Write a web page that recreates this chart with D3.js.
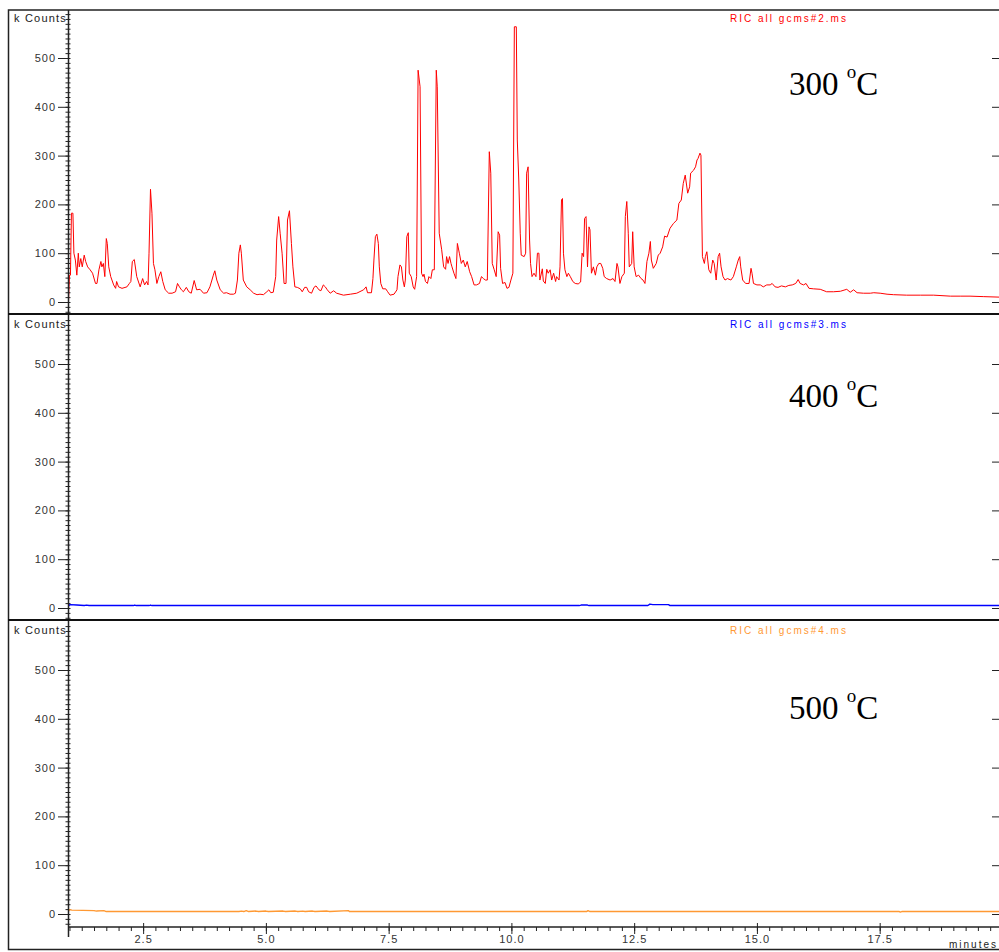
<!DOCTYPE html>
<html>
<head>
<meta charset="utf-8">
<script src="https://cdn.jsdelivr.net/npm/d3@7"></script>
<style>
  body { margin: 0; background: #fff; }
  svg { display: block; }
</style>
</head>
<body>
<div id="chart"></div>
<script>
"use strict";

// retention time (minutes), kCounts
var ric2 = [
  [0.98,1],[1.00,55],[1.02,55],[1.04,182],[1.07,182],[1.09,100],[1.12,86],[1.15,55],[1.18,100],[1.20,72],
  [1.23,89],[1.26,72],[1.30,96],[1.33,83],[1.37,72],[1.42,66],[1.47,59],[1.53,38],[1.56,38],[1.60,66],
  [1.64,83],[1.66,72],[1.69,79],[1.72,52],[1.75,130],[1.77,120],[1.80,72],[1.84,52],[1.90,35],[1.94,28],
  [1.96,42],[2.00,31],[2.07,28],[2.17,31],[2.22,38],[2.25,42],[2.28,83],[2.32,87],[2.37,52],[2.44,31],
  [2.49,48],[2.53,35],[2.57,42],[2.60,35],[2.62,100],[2.65,231],[2.68,182],[2.71,79],[2.74,66],[2.78,38],
  [2.82,52],[2.86,62],[2.90,42],[2.95,25],[3.02,18],[3.09,18],[3.16,21],[3.20,38],[3.24,31],[3.28,25],
  [3.32,21],[3.38,30],[3.43,21],[3.48,18],[3.54,44],[3.59,25],[3.66,26],[3.73,18],[3.80,19],[3.86,31],
  [3.93,55],[3.96,64],[4.00,45],[4.07,25],[4.14,18],[4.20,19],[4.27,16],[4.34,16],[4.38,18],[4.42,45],
  [4.45,100],[4.48,117],[4.50,100],[4.54,45],[4.61,31],[4.68,25],[4.75,18],[4.82,15],[4.88,16],[4.95,15],
  [5.02,21],[5.06,25],[5.10,19],[5.15,20],[5.20,52],[5.22,127],[5.26,175],[5.29,141],[5.33,100],[5.37,38],
  [5.41,38],[5.44,168],[5.48,187],[5.52,120],[5.55,72],[5.59,31],[5.64,30],[5.70,27],[5.74,21],[5.79,30],
  [5.83,30],[5.87,21],[5.93,18],[5.98,30],[6.02,33],[6.08,25],[6.12,23],[6.17,35],[6.21,31],[6.25,25],
  [6.31,18],[6.38,23],[6.44,18],[6.58,14],[6.72,16],[6.85,18],[6.99,25],[7.04,31],[7.07,19],[7.15,19],
  [7.18,48],[7.20,86],[7.23,134],[7.26,139],[7.29,120],[7.31,72],[7.34,38],[7.38,27],[7.44,27],[7.48,21],
  [7.53,14],[7.61,16],[7.67,25],[7.69,52],[7.73,76],[7.76,72],[7.79,45],[7.82,31],[7.84,45],[7.87,134],
  [7.90,142],[7.92,59],[7.96,52],[8.00,31],[8.03,26],[8.07,52],[8.10,475],[8.14,441],[8.17,59],[8.20,52],
  [8.22,57],[8.25,42],[8.29,38],[8.32,52],[8.36,48],[8.39,66],[8.43,66],[8.47,475],[8.49,441],[8.53,141],
  [8.58,107],[8.62,72],[8.66,67],[8.68,93],[8.71,79],[8.74,93],[8.77,79],[8.79,72],[8.83,59],[8.87,48],
  [8.90,120],[8.94,100],[8.98,79],[9.02,86],[9.06,72],[9.10,83],[9.15,62],[9.19,52],[9.24,35],[9.29,35],
  [9.35,38],[9.39,52],[9.43,48],[9.47,45],[9.51,45],[9.55,308],[9.58,264],[9.61,79],[9.65,66],[9.69,52],
  [9.73,144],[9.76,137],[9.78,69],[9.82,38],[9.87,40],[9.91,28],[9.95,30],[9.99,45],[10.03,59],[10.06,564],
  [10.10,564],[10.12,332],[10.15,250],[10.18,141],[10.20,96],[10.26,93],[10.29,100],[10.31,264],[10.34,277],[10.37,127],
  [10.39,79],[10.42,52],[10.46,59],[10.50,52],[10.53,100],[10.56,100],[10.58,45],[10.63,68],[10.65,43],[10.69,38],
  [10.72,67],[10.75,59],[10.79,66],[10.82,45],[10.86,59],[10.90,42],[10.92,52],[10.97,45],[10.99,72],[11.02,209],
  [11.04,212],[11.06,100],[11.09,66],[11.13,52],[11.16,59],[11.20,52],[11.25,42],[11.30,38],[11.36,37],[11.41,41],
  [11.44,100],[11.47,93],[11.49,171],[11.52,175],[11.55,72],[11.58,154],[11.60,148],[11.63,59],[11.67,72],[11.71,55],
  [11.74,72],[11.78,79],[11.82,79],[11.86,69],[11.89,52],[11.94,48],[12.01,45],[12.07,48],[12.11,42],[12.15,79],
  [12.17,72],[12.21,38],[12.25,52],[12.30,59],[12.32,175],[12.35,206],[12.38,141],[12.40,72],[12.45,79],[12.47,144],
  [12.50,72],[12.54,52],[12.59,55],[12.64,48],[12.68,45],[12.72,38],[12.76,83],[12.80,100],[12.83,124],[12.85,86],
  [12.89,69],[12.95,79],[12.99,96],[13.03,100],[13.08,113],[13.12,135],[13.17,133],[13.23,151],[13.30,161],[13.37,168],
  [13.41,202],[13.46,209],[13.50,243],[13.54,260],[13.59,223],[13.63,236],[13.65,264],[13.71,270],[13.75,277],[13.78,291],
  [13.80,294],[13.84,305],[13.86,301],[13.89,93],[13.93,79],[13.95,93],[13.98,103],[14.02,66],[14.06,59],[14.10,86],
  [14.13,79],[14.17,45],[14.21,93],[14.24,100],[14.27,72],[14.31,52],[14.35,45],[14.40,48],[14.47,45],[14.52,52],
  [14.58,72],[14.62,86],[14.65,93],[14.67,72],[14.71,45],[14.77,38],[14.84,38],[14.88,69],[14.90,59],[14.93,38],
  [15.00,35],[15.07,35],[15.13,31],[15.20,35],[15.27,35],[15.31,38],[15.37,31],[15.43,30],[15.50,33],[15.58,31],
  [15.65,34],[15.72,35],[15.79,38],[15.84,46],[15.88,38],[15.95,35],[16.00,38],[16.06,28],[16.15,27],[16.29,26],
  [16.42,21],[16.56,21],[16.70,22],[16.83,26],[16.90,20],[16.97,25],[17.04,19],[17.17,18],[17.31,18],[17.38,19],
  [17.51,18],[17.65,16],[17.78,15],[18.05,14],[18.33,14],[18.60,14],[18.94,12],[19.14,12],[19.34,12],[19.62,11],
  [19.93,10]
];

var ric3 = [
  [0.98,4],[1.01,7],[1.15,6],[1.30,5],[1.35,6],[1.40,5],[2.30,5],[2.33,6],[2.36,5],[2.62,5],[2.65,6],[2.68,5],
  [11.38,5],[11.42,6],[11.55,6],[11.58,5],[12.78,5],[12.82,8],[12.88,7],[13.20,7],[13.23,5],[19.93,5]
];

var ric4 = [
  [0.98,6],[1.00,9],[1.05,8],[1.50,7],[1.55,6],[1.70,7],[1.75,5],[4.45,5],[4.50,6],[4.55,5],[4.60,7],[4.65,5],
  [4.80,6],[4.85,5],[5.00,6],[5.05,5],[5.35,6],[5.40,5],[5.60,6],[5.65,5],[5.75,6],[5.80,5],[5.95,6],[6.00,5],
  [6.25,6],[6.30,5],[6.68,7],[6.70,5],[11.53,5],[11.56,7],[11.60,5],[17.90,5],[17.92,4],[17.95,5],[19.93,5]
];

var traceNames = ["RIC all gcms#2.ms", "RIC all gcms#3.ms", "RIC all gcms#4.ms"];
var temperatures = ["300", "400", "500"];
var traceColors = ["#ff0000", "#0000ff", "#ff9933"];
var yTicks = [0, 100, 200, 300, 400, 500];
var xTicks = [2.5, 5.0, 7.5, 10.0, 12.5, 15.0, 17.5];

var width = 999;
var height = 952;
var panelStep = 306;
var xLeft = 68, xRight = 999, xAxisY = 927;

var svg = d3.select("#chart").append("svg")
  .attr("width", width)
  .attr("height", height)
  .style("font-family", "'Liberation Sans', Arial, sans-serif");

var x = d3.scaleLinear().domain([0.97, 19.93]).range([xLeft, xRight]);

var line = function(y){
  return d3.line()
    .x(function(d){ return x(d[0]); })
    .y(function(d){ return y(d[1]); });
};

var series = [ric2, ric3, ric4];

series.forEach(function(data, i){
  var off = i * panelStep;
  var y = d3.scaleLinear().domain([0, 500]).range([302 + off, 58 + off]);
  var g = svg.append("g");

  // minor ticks, crossing the axis
  g.append("g")
    .attr("transform", "translate(" + (xLeft + 2.5) + ",0)")
    .call(d3.axisLeft(y).tickValues(d3.range(-20, 600, 10)).tickSize(5).tickFormat(""))
    .call(function(a){ a.select(".domain").remove(); })
    .selectAll("line").attr("stroke", "#222");

  // major ticks + labels
  var ax = g.append("g")
    .attr("transform", "translate(" + xLeft + ",0)")
    .call(d3.axisLeft(y).tickValues(yTicks).tickSize(10).tickPadding(2));
  ax.select(".domain").remove();
  ax.selectAll("line").attr("stroke", "#222");
  ax.selectAll("text")
    .attr("font-size", "11px")
    .attr("letter-spacing", "1px")
    .attr("fill", "#333")
    .style("font-family", "'Liberation Sans', Arial, sans-serif");

  // right side ticks
  var rx = g.append("g")
    .attr("transform", "translate(" + xRight + ",0)")
    .call(d3.axisLeft(y).tickValues(yTicks).tickSize(-7).tickFormat(""));
  rx.select(".domain").remove();
  rx.selectAll("line").attr("stroke", "#222").attr("x2", -7);

  g.append("text")
    .text("k Counts")
    .attr("x", 14).attr("y", 22 + off)
    .attr("font-size", "11px")
    .attr("letter-spacing", "1.2px")
    .attr("fill", "#222");

  g.append("text")
    .text(traceNames[i])
    .attr("x", 789).attr("y", 22 + off)
    .attr("text-anchor", "middle")
    .attr("font-size", "10px")
    .attr("letter-spacing", "2px")
    .attr("fill", traceColors[i]);

  var t = g.append("text")
    .attr("x", 789).attr("y", 95 + i * 312)
    .attr("font-family", "'Liberation Serif', 'Times New Roman', serif")
    .attr("font-size", "33px")
    .attr("fill", "#000");
  t.append("tspan").text(temperatures[i] + " ");
  t.append("tspan").text("o").attr("font-size", "19px").attr("dy", -17);
  t.append("tspan").text("C").attr("dy", 17);

  g.append("path")
    .datum(data)
    .attr("d", line(y))
    .attr("fill", "none")
    .attr("stroke", traceColors[i])
    .attr("stroke-width", i == 0 ? 1 : 1.4)
    .attr("stroke-linejoin", "round");
});

// y axis line
svg.append("line")
  .attr("x1", xLeft + 0.5).attr("x2", xLeft + 0.5)
  .attr("y1", 10).attr("y2", 937)
  .attr("stroke", "#222").attr("stroke-width", 1.5);

// x axis
var xg = svg.append("g");
xg.append("g")
  .attr("transform", "translate(0," + xAxisY + ")")
  .call(d3.axisBottom(x).tickValues(d3.range(1, 20, 0.25)).tickSize(4).tickFormat(""))
  .call(function(a){ a.select(".domain").remove(); })
  .selectAll("line").attr("stroke", "#222");
var xm = xg.append("g")
  .attr("transform", "translate(0," + (xAxisY - 4) + ")")
  .call(d3.axisBottom(x).tickValues(xTicks).tickSize(11).tickPadding(1).tickFormat(d3.format(".1f")));
xm.select(".domain").remove();
xm.selectAll("line").attr("stroke", "#222");
xm.selectAll("text")
  .attr("font-size", "11px")
  .attr("letter-spacing", "1px")
  .attr("fill", "#333")
  .style("font-family", "'Liberation Sans', Arial, sans-serif");
xg.append("line")
  .attr("x1", xLeft).attr("x2", xRight)
  .attr("y1", xAxisY).attr("y2", xAxisY)
  .attr("stroke", "#222").attr("stroke-width", 1.5);
xg.append("text")
  .text("minutes")
  .attr("x", 998).attr("y", 948)
  .attr("text-anchor", "end")
  .attr("font-size", "10px")
  .attr("letter-spacing", "2px")
  .attr("fill", "#222");

// frame and panel separators
svg.append("path")
  .attr("d", "M1000,10H8.5V949.5H1000")
  .attr("fill", "none")
  .attr("stroke", "#222").attr("stroke-width", 1.5);
[314, 620].forEach(function(sy){
  svg.append("line")
    .attr("x1", 8).attr("x2", 999)
    .attr("y1", sy).attr("y2", sy)
    .attr("stroke", "#111").attr("stroke-width", 2);
});
</script>
</body>
</html>
